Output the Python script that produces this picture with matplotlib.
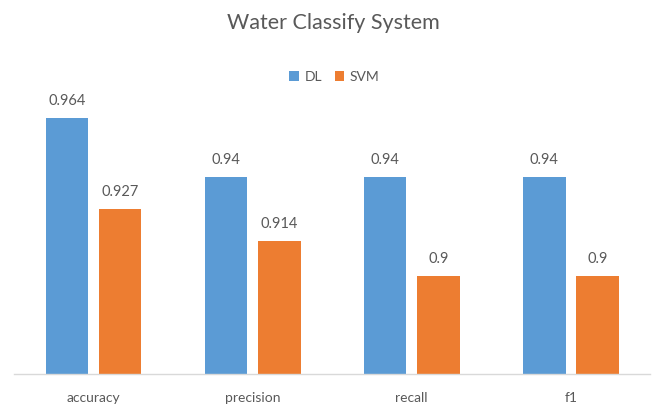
import numpy as np
import matplotlib.pyplot as plt

plt.rcParams['font.family'] = ['Lato', 'DejaVu Sans']

# metrics for the two classifiers
metrics = ['accuracy', 'precision', 'recall', 'f1']
dl_scores = [0.964, 0.94, 0.94, 0.94]
svm_scores = [0.927, 0.914, 0.9, 0.9]

blue = '#5B9BD5'
orange = '#ED7D31'
text_col = '#595959'

fig = plt.figure(figsize=(6.52, 4.05), dpi=100)
ax = fig.add_axes([0.0215, 0.0758, 0.976, 0.731])

x = np.arange(len(metrics))
w = 0.268
off = 0.167
b1 = ax.bar(x - off, dl_scores, w, color=blue, label='DL')
b2 = ax.bar(x + off, svm_scores, w, color=orange, label='SVM')

# value labels above each bar
for bars, vals in ((b1, dl_scores), (b2, svm_scores)):
    for rect, v in zip(bars, vals):
        ax.annotate(f'{v:g}', (rect.get_x() + rect.get_width() / 2, v),
                    xytext=(0, 7), textcoords='offset points',
                    ha='center', va='bottom', fontsize=10.5, color=text_col)

ax.set_xlim(-0.5, 3.5)
ax.set_ylim(0.86, 0.98)
ax.set_xticks(x)
ax.set_xticklabels(metrics, fontsize=10, color=text_col)
ax.tick_params(axis='x', length=0, pad=13)
ax.set_yticks([])
for s in ('top', 'right', 'left'):
    ax.spines[s].set_visible(False)
ax.spines['bottom'].set_color('#D9D9D9')
ax.spines['bottom'].set_linewidth(1)

fig.text(0.511, 0.943, 'Water Classify System', ha='center', va='center',
         fontsize=15.5, color=text_col)

leg = fig.legend(loc='center', bbox_to_anchor=(0.513, 0.81), ncol=2, frameon=False,
                 fontsize=10, handlelength=0.7, handleheight=0.7,
                 handletextpad=0.4, columnspacing=0.9)
for t in leg.get_texts():
    t.set_color(text_col)

fig.savefig('out.png', dpi=100)
